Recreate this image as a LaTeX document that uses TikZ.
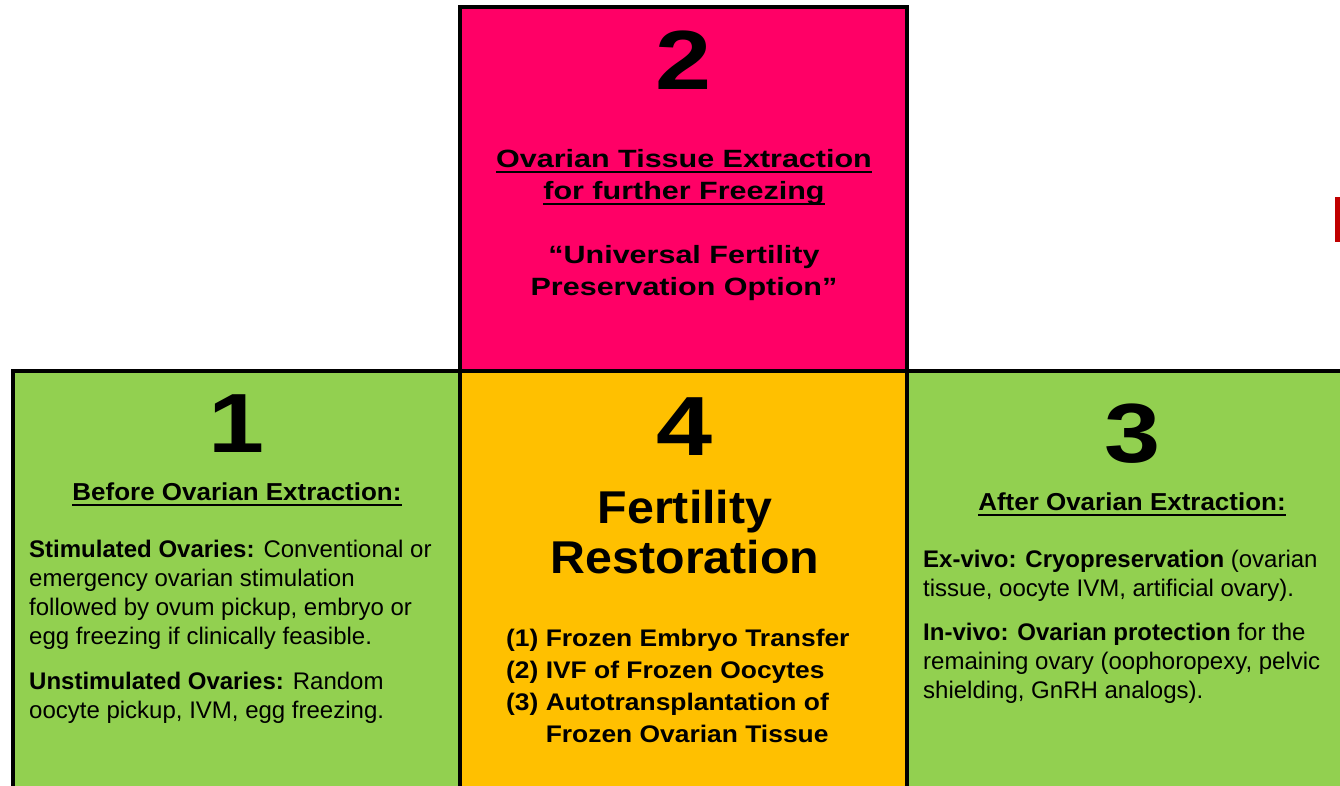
\documentclass[tikz,border=0pt]{standalone}
\usepackage{fontspec}
\setmainfont{Liberation Sans}
\usetikzlibrary{positioning}
\definecolor{PreservePink}{RGB}{255,0,102}
\definecolor{LeafGreen}{RGB}{146,208,80}
\definecolor{RestoreGold}{RGB}{255,192,0}
\definecolor{TabRed}{RGB}{192,0,0}
\newcommand{\uln}[1]{\setbox0\hbox{#1}\rlap{\rule[-6pt]{\wd0}{2pt}}\box0}

\begin{document}
\begin{tikzpicture}[
  x=1pt, y=-1pt,
  panel/.style={draw=black, line width=4pt, outer sep=0pt, inner sep=0pt,
    minimum width=447pt, minimum height=440pt},
  digit/.style={anchor=base, inner sep=0pt,
    font=\fontsize{84}{84}\selectfont\bfseries\addfontfeature{FakeStretch=1.2}},
  pinktext/.style={anchor=base, inner sep=0pt, align=center,
    font=\fontsize{25}{32}\selectfont\bfseries\addfontfeature{FakeStretch=1.22}},
  head/.style={anchor=base, inner sep=0pt,
    font=\fontsize{24.5}{30}\selectfont\bfseries\addfontfeature{FakeStretch=1.06}},
  body/.style={anchor=base west, inner sep=0pt, align=left,
    font=\fontsize{24}{29}\selectfont},
  steps/.style={anchor=base west, inner sep=0pt, align=left,
    font=\fontsize{24}{32}\selectfont\bfseries\addfontfeature{FakeStretch=1.1}},
]
\useasboundingbox (0,0) rectangle (1340,786);
\clip (0,0) rectangle (1340,786);

\node[panel, fill=PreservePink, minimum height=364pt, anchor=north west] (preserve) at (460,7) {};
\node[panel, fill=RestoreGold, below=0pt of preserve] (restore) {};
\node[panel, fill=LeafGreen, left=0pt of restore] (before) {};
\node[panel, fill=LeafGreen, right=0pt of restore] (after) {};
\node[fill=TabRed, inner sep=0pt, minimum width=10pt, minimum height=45pt,
  anchor=north west] (tab) at (1335,197) {};

\node[digit] (two) at (684,90) {2};
\node[pinktext] (extract) at (684,295)
  {\uln{Ovarian Tissue Extraction}\\\uln{for further Freezing}\\[32pt]
   “Universal Fertility\\Preservation Option”};

\node[digit] (one) at (237,452) {1};
\node[head] (beforehead) at (237,500) {\uln{Before Ovarian Extraction:}};
\node[body] (beforetext) at (29,718)
  {\textbf{Stimulated Ovaries:} Conventional or\\
   emergency ovarian stimulation\\
   followed by ovum pickup, embryo or\\
   egg freezing if clinically feasible.\\[16pt]
   \textbf{Unstimulated Ovaries:} Random\\
   oocyte pickup, IVM, egg freezing.};

\node[digit] (four) at (685,455) {4};
\node[anchor=base, inner sep=0pt, align=center,
  font=\fontsize{46}{50}\selectfont\bfseries\addfontfeature{FakeStretch=1.05}]
  (restorehead) at (685,573) {Fertility\\Restoration};
\node[steps] (restorelist) at (506,742)
  {(1) Frozen Embryo Transfer\\
   (2) IVF of Frozen Oocytes\\
   (3) Autotransplantation of\\
   \phantom{(3) }Frozen Ovarian Tissue};

\node[digit] (three) at (1133,462) {3};
\node[head] (afterhead) at (1132,510) {\uln{After Ovarian Extraction:}};
\node[body] (aftertext) at (923,698)
  {\textbf{Ex-vivo: Cryopreservation} (ovarian\\
   tissue, oocyte IVM, artificial ovary).\\[15pt]
   \textbf{In-vivo: Ovarian protection} for the\\
   remaining ovary (oophoropexy, pelvic\\
   shielding, GnRH analogs).};
\end{tikzpicture}
\end{document}
